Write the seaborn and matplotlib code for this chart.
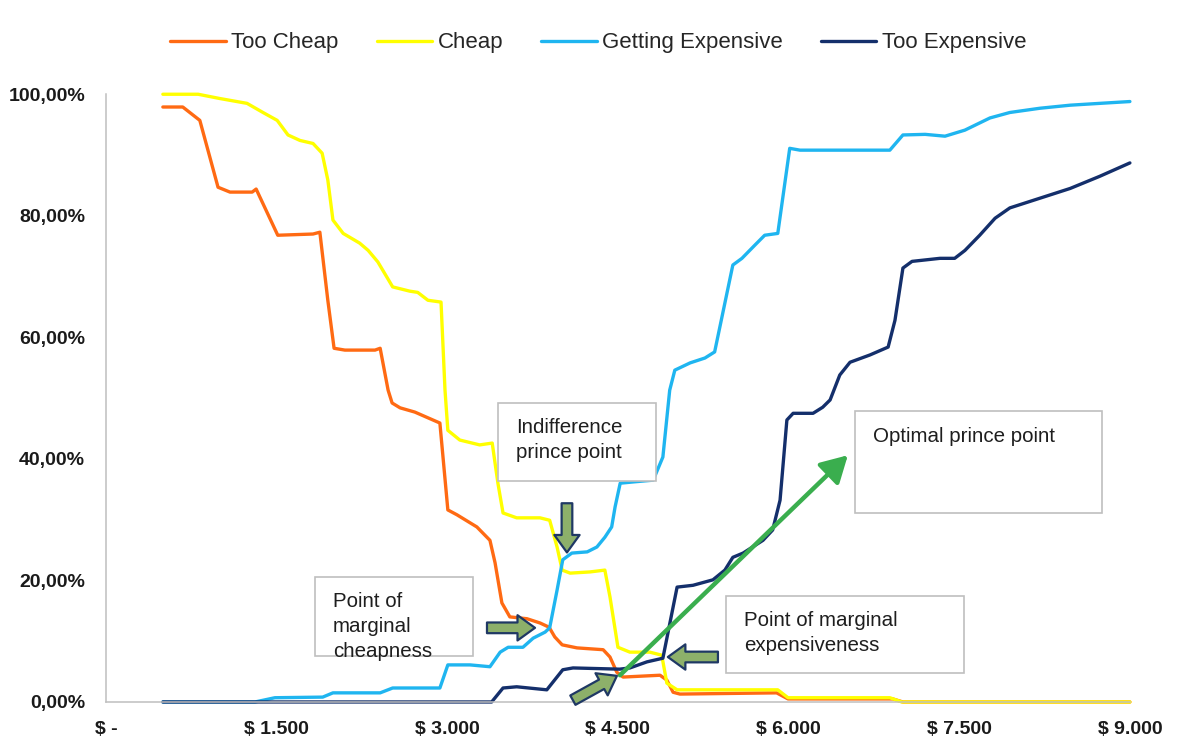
import matplotlib
matplotlib.use("Agg")
import matplotlib.pyplot as plt
import matplotlib.patches as mpatches
from matplotlib.ticker import FuncFormatter, FixedLocator
import pandas as pd
import seaborn as sns

# ---- Van Westendorp price sensitivity curves (price in $, share in %) ----
too_cheap_price = [500, 675, 825, 985, 1090, 1285, 1320, 1510, 1820, 1880, 1950, 2005,
                   2100, 2365, 2410, 2480, 2515, 2585, 2715, 2935, 3005, 3085, 3260,
                   3375, 3420, 3480, 3550, 3700, 3815, 3895, 3945, 4010, 4140, 4370,
                   4430, 4490, 4545, 4870, 4930, 4985, 5045, 5895, 5995, 6915, 7005, 9000]
too_cheap_share = [97.9, 97.9, 95.7, 84.7, 83.9, 83.9, 84.4, 76.8, 77.0, 77.3, 66.1, 58.2,
                   57.9, 57.9, 58.2, 51.3, 49.2, 48.4, 47.7, 45.9, 31.6, 30.8, 28.8,
                   26.6, 22.9, 16.3, 14.0, 13.7, 13.0, 12.3, 10.7, 9.4, 8.9, 8.6,
                   7.4, 4.9, 4.1, 4.4, 3.6, 1.6, 1.3, 1.5, 0.5, 0.5, 0.0, 0.0]

cheap_price = [500, 810, 1000, 1240, 1380, 1505, 1600, 1705, 1820, 1900, 1950, 1995,
               2085, 2230, 2305, 2390, 2520, 2670, 2740, 2830, 2945, 2980, 3005, 3110,
               3285, 3395, 3445, 3490, 3610, 3815, 3900, 3965, 4010, 4080, 4255, 4385,
               4430, 4500, 4605, 4780, 4885, 4930, 5020, 5905, 5995, 6890, 6995, 9000]
cheap_share = [100.0, 100.0, 99.3, 98.5, 97.0, 95.7, 93.3, 92.4, 91.9, 90.3, 85.9, 79.3,
               77.1, 75.5, 74.3, 72.4, 68.3, 67.6, 67.4, 66.1, 65.8, 51.3, 44.7, 43.1,
               42.3, 42.6, 36.0, 31.1, 30.3, 30.3, 29.9, 25.5, 21.7, 21.2, 21.4, 21.7,
               17.3, 9.0, 8.2, 8.2, 7.7, 3.1, 2.0, 2.0, 0.7, 0.7, 0.0, 0.0]

getting_exp_price = [500, 1310, 1485, 1905, 1995, 2410, 2520, 2935, 3005, 3200, 3375,
                     3465, 3535, 3665, 3755, 3860, 3900, 3965, 4015, 4095, 4230, 4315,
                     4385, 4445, 4475, 4520, 4630, 4810, 4895, 4955, 5000, 5135, 5265,
                     5350, 5510, 5590, 5705, 5790, 5905, 6010, 6100, 6890, 7005, 7200,
                     7375, 7550, 7770, 7945, 8210, 8475, 8735, 9000]
getting_exp_share = [0.0, 0.0, 0.7, 0.8, 1.5, 1.5, 2.3, 2.3, 6.1, 6.1, 5.8,
                     8.2, 9.0, 9.0, 10.5, 11.5, 12.2, 18.4, 23.4, 24.5, 24.7, 25.5,
                     27.1, 28.8, 32.1, 36.0, 36.2, 36.5, 40.3, 51.3, 54.6, 55.8, 56.6,
                     57.6, 71.9, 73.0, 75.2, 76.8, 77.1, 91.1, 90.8, 90.8, 93.3, 93.4,
                     93.1, 94.1, 96.1, 97.0, 97.7, 98.2, 98.5, 98.8]

too_exp_price = [500, 3390, 3490, 3610, 3875, 4015, 4105, 4515, 4605, 4755, 4895,
                 5020, 5160, 5335, 5440, 5510, 5600, 5775, 5860, 5925, 5985, 6040,
                 6215, 6300, 6365, 6450, 6540, 6715, 6875, 6935, 7005, 7085, 7330,
                 7460, 7550, 7680, 7815, 7945, 8210, 8475, 8735, 9000]
too_exp_share = [0.0, 0.0, 2.3, 2.5, 2.0, 5.3, 5.6, 5.4, 5.6, 6.6, 7.2,
                 18.9, 19.2, 20.1, 21.7, 23.8, 24.5, 26.6, 28.3, 33.2, 46.4, 47.5,
                 47.5, 48.5, 49.7, 53.8, 55.9, 57.1, 58.4, 62.8, 71.4, 72.5, 73.0,
                 73.0, 74.3, 76.8, 79.6, 81.3, 82.9, 84.5, 86.5, 88.7]

series_names = ["Too Cheap", "Cheap", "Getting Expensive", "Too Expensive"]
series_colors = ["#FF6A13", "#FFFF00", "#1FB5F0", "#142F6B"]

x_ticks = [0, 1500, 3000, 4500, 6000, 7500, 9000]
y_ticks = [0, 20, 40, 60, 80, 100]

# ---- long-format table for seaborn ----
frames = []
for name, xs, ys in zip(series_names,
                        [too_cheap_price, cheap_price, getting_exp_price, too_exp_price],
                        [too_cheap_share, cheap_share, getting_exp_share, too_exp_share]):
    frames.append(pd.DataFrame({"price": xs, "share": ys, "series": name}))
df = pd.concat(frames, ignore_index=True)

sns.set_style("white")
plt.rcParams["font.family"] = ["Liberation Sans", "DejaVu Sans"]

fig = plt.figure(figsize=(11.92, 7.54), dpi=100)
ax = fig.add_axes([0.0889, 0.069, 0.859, 0.806])

sns.lineplot(data=df, x="price", y="share", hue="series", hue_order=series_names,
             palette=dict(zip(series_names, series_colors)), estimator=None,
             sort=False, linewidth=2.4, ax=ax)
for i, ln in enumerate(ax.lines):
    ln.set_clip_on(False)
    ln.set_solid_joinstyle("round")
    ln.set_solid_capstyle("round")
    ln.set_zorder(2 + 0.1 * i)

handles, labels = ax.get_legend_handles_labels()
ax.get_legend().remove()
fig.legend(handles, labels, loc="center", bbox_to_anchor=(0.502, 0.943), ncol=4,
           frameon=False, fontsize=16, handlelength=2.5, handletextpad=0.25,
           columnspacing=1.7)

# ---- axes styling ----
ax.set_xlim(0, 9000)
ax.set_ylim(0, 100)
ax.set_xlabel("")
ax.set_ylabel("")
for side in ("top", "right"):
    ax.spines[side].set_visible(False)
for side in ("left", "bottom"):
    ax.spines[side].set_color("#BFBFBF")
    ax.spines[side].set_linewidth(1.1)

ax.xaxis.set_major_locator(FixedLocator(x_ticks))
ax.yaxis.set_major_locator(FixedLocator(y_ticks))
ax.xaxis.set_major_formatter(FuncFormatter(
    lambda v, p: "$ -" if v == 0 else "$ " + f"{v:,.0f}".replace(",", ".")))
ax.yaxis.set_major_formatter(FuncFormatter(
    lambda v, p: f"{v:.2f}".replace(".", ",") + "%"))
ax.tick_params(axis="both", length=0, labelsize=14)
ax.tick_params(axis="x", pad=14)
ax.tick_params(axis="y", pad=15)
for lab in ax.get_xticklabels() + ax.get_yticklabels():
    lab.set_fontweight("bold")
    lab.set_color("#1A1A1A")

# ---- annotation boxes ----
def label_box(x0, x1, y0, y1, tx, ty, text):
    ax.add_patch(mpatches.Rectangle((x0, y0), x1 - x0, y1 - y0, fill=True,
                                    facecolor="white", edgecolor="#BFBFBF",
                                    linewidth=1.2, zorder=5, clip_on=False))
    ax.text(tx, ty, text, ha="left", va="top", fontsize=14.8, color="#1E1E1E",
            linespacing=1.4, zorder=6)

label_box(3445, 4834, 36.3, 49.2, 3604, 46.8, "Indifference\nprince point")
label_box(1837, 3226, 7.6, 20.6, 1995, 18.1, "Point of\nmarginal\ncheapness")
label_box(6583, 8754, 31.1, 47.9, 6741, 45.2, "Optimal prince point")
label_box(5449, 7541, 4.8, 17.4, 5607, 15.0, "Point of marginal\nexpensiveness")

# ---- block arrows pointing at the crossings ----
block = dict(arrowstyle="simple,head_length=0.9,head_width=1.3,tail_width=0.55",
             fc="#8DB06A", ec="#1F3864", lw=1.6, mutation_scale=14,
             shrinkA=0, shrinkB=0)
ax.annotate("", xy=(4052, 24.6), xytext=(4052, 32.7), arrowprops=block, zorder=7)
ax.annotate("", xy=(3771, 12.2), xytext=(3349, 12.2), arrowprops=block, zorder=7)
ax.annotate("", xy=(4939, 7.4), xytext=(5379, 7.4), arrowprops=block, zorder=7)
ax.annotate("", xy=(4491, 4.3), xytext=(4104, 0.3), arrowprops=block, zorder=7,
            annotation_clip=False)

# green arrow towards the optimal price label
ax.annotate("", xy=(6521, 40.6), xytext=(4518, 4.4),
            arrowprops=dict(arrowstyle="-|>,head_length=0.8,head_width=0.45",
                            color="#3AAE4E", lw=3.2, mutation_scale=20,
                            shrinkA=0, shrinkB=0), zorder=8)

fig.savefig("out.png", dpi=100, facecolor="white")
